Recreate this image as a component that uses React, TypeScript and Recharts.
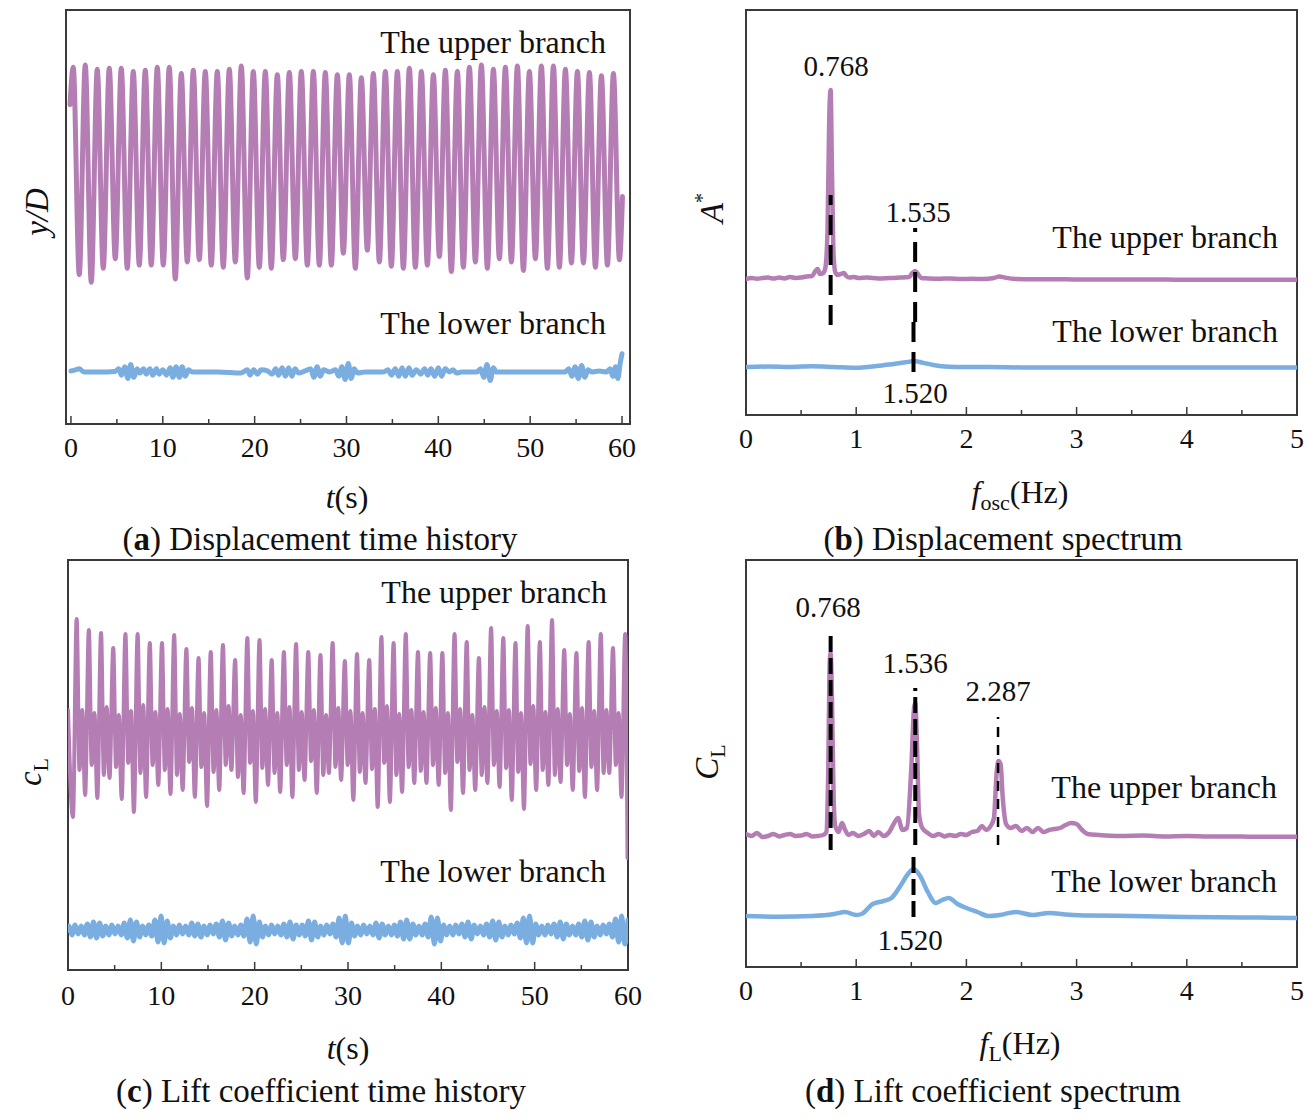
import React from 'react';
import { LineChart, Line, XAxis, YAxis, ReferenceLine, ReferenceArea } from 'recharts';

// ---------- styling constants ----------
const FONT = '"Liberation Serif", "Times New Roman", serif';
const AXIS = '#3a3a3a';
const PURPLE = '#b47eb4';
const BLUE = '#7aade0';

// ---------- ticks ----------
const timeTicks = [0, 5, 10, 15, 20, 25, 30, 35, 40, 45, 50, 55, 60];
const timeMajors = [0, 10, 20, 30, 40, 50, 60];
const freqTicks = [0, 0.5, 1, 1.5, 2, 2.5, 3, 3.5, 4, 4.5, 5];
const freqMajors = [0, 1, 2, 3, 4, 5];

// ---------- (a) displacement time history, upper branch (y/D) ----------
const aStart = [-0.1, 0.63];
const aEnd = [60.05, -0.23];
const aFirstPeakT = 0.25;
const aPeriod = 1.307;
const aPeaks = [0.98, 1.0, 0.96, 0.97, 0.97, 0.94, 0.95, 0.98, 0.98, 0.92,
  0.95, 0.94, 0.94, 0.96, 0.99, 0.94, 0.94, 0.91, 0.93, 0.94,
  0.94, 0.93, 0.91, 0.91, 0.88, 0.92, 0.94, 0.94, 0.97, 0.94,
  0.91, 0.95, 0.94, 0.98, 1.0, 0.96, 0.98, 0.99, 0.94, 0.99,
  0.99, 0.96, 0.94, 0.93, 0.9, 0.92];
const aTroughs = [-0.96, -1.03, -0.9, -0.81, -0.9, -0.87, -0.87, -0.87, -1.0, -0.84,
  -0.82, -0.87, -0.89, -0.84, -0.99, -0.89, -0.9, -0.82, -0.81, -0.87,
  -0.87, -0.87, -0.76, -0.9, -0.73, -0.84, -0.88, -0.9, -0.89, -0.87,
  -0.79, -0.93, -0.89, -0.84, -0.9, -0.81, -0.84, -0.92, -0.81, -0.9,
  -0.89, -0.85, -0.85, -0.89, -0.87, -0.82];
// lower branch (t, y/D)
const aLower = [
  [0, 0.01], [0.5, 0.02], [0.9, 0.03], [1.4, 0.0], [3, 0.0], [4.8, 0.005],
  [5.2, 0.03], [5.5, -0.03], [5.85, 0.05], [6.2, -0.06], [6.5, 0.07], [6.85, -0.05], [7.2, 0.03], [7.5, -0.01],
  [7.9, 0.03], [8.2, -0.02], [8.6, 0.03], [8.9, -0.03], [9.3, 0.03], [9.6, -0.02], [10, 0.02], [10.4, -0.03],
  [10.8, 0.04], [11.1, -0.05], [11.45, 0.05], [11.8, -0.05], [12.1, 0.05], [12.45, -0.04], [12.8, 0.02], [13.2, 0.0],
  [16, 0.0], [18.5, -0.01],
  [19.2, 0.02], [19.5, -0.03], [19.9, 0.02], [20.3, -0.02], [20.7, 0.02], [21.4, 0.01], [21.9, -0.02], [22.3, 0.03],
  [22.6, -0.03], [23, 0.04], [23.35, -0.04], [23.7, 0.04], [24.05, -0.04], [24.4, 0.03], [24.8, -0.01], [25.5, 0.01],
  [26.1, 0.03], [26.45, -0.05], [26.8, 0.05], [27.15, -0.04], [27.5, 0.02], [28.2, 0.0],
  [28.8, 0.02], [29.15, -0.04], [29.5, 0.05], [29.85, -0.07], [30.2, 0.08], [30.5, -0.06], [30.85, 0.03], [31.2, -0.01],
  [32, 0.0], [34, 0.0],
  [34.5, 0.02], [34.9, -0.03], [35.3, 0.03], [35.7, -0.04], [36.05, 0.04], [36.4, -0.04], [36.8, 0.04], [37.15, -0.03],
  [37.6, 0.02], [38.1, -0.02], [38.5, 0.03], [38.85, -0.03], [39.2, 0.03], [39.6, -0.04], [40, 0.04], [40.35, -0.04],
  [40.75, 0.03], [41.2, 0.0], [41.6, 0.02], [42, -0.01], [42.5, 0.0], [44.2, 0.0],
  [44.6, 0.03], [44.95, -0.05], [45.3, 0.07], [45.65, -0.08], [46, 0.04], [46.3, 0.0],
  [50, 0.0], [53.8, 0.0],
  [54.2, 0.03], [54.55, -0.04], [54.9, 0.05], [55.25, -0.06], [55.6, 0.06], [55.95, -0.05], [56.3, 0.02], [56.7, 0.0],
  [57.5, 0.01], [58.3, 0.0], [58.7, 0.03], [59.0, -0.04], [59.3, 0.05], [59.55, -0.06], [59.8, 0.08], [60.0, 0.17],
];

// ---------- (c) lift coefficient time history, upper branch ----------
const cStart = [0, 0.05];
const cEnd = [59.95, -1.43];
const cFirstPeakT = 0.93;
const cPeriod = 1.306;
const cPeaks = [0.96, 0.85, 0.82, 0.67, 0.81, 0.81, 0.72, 0.72, 0.8, 0.66,
  0.57, 0.63, 0.7, 0.55, 0.77, 0.75, 0.55, 0.63, 0.71, 0.63,
  0.6, 0.72, 0.54, 0.61, 0.55, 0.78, 0.72, 0.81, 0.63, 0.62,
  0.62, 0.81, 0.73, 0.57, 0.87, 0.77, 0.72, 0.89, 0.73, 0.95,
  0.65, 0.62, 0.73, 0.81, 0.67, 0.81];
const cDeep = [-1.02, -0.8, -0.83, -0.63, -0.84, -0.97, -0.82, -0.7, -0.79, -0.75,
  -0.82, -0.91, -0.75, -0.55, -0.78, -0.87, -0.7, -0.77, -0.82, -0.65,
  -0.78, -0.58, -0.65, -0.85, -0.68, -0.92, -0.87, -0.77, -0.68, -0.68,
  -0.7, -0.95, -0.78, -0.75, -0.68, -0.72, -0.85, -0.94, -0.75, -0.7,
  -0.67, -0.75, -0.82, -0.75, -0.58, -0.82];
const cMidLow = [-0.55, -0.5, -0.6, -0.52, -0.48, -0.58, -0.5, -0.55, -0.6, -0.47,
  -0.52, -0.57, -0.5, -0.62, -0.48, -0.53, -0.58, -0.5, -0.55, -0.46,
  -0.6, -0.52, -0.5, -0.57, -0.54, -0.48, -0.6, -0.52, -0.56, -0.5,
  -0.58, -0.47, -0.55, -0.6, -0.5, -0.53, -0.57, -0.49, -0.55, -0.6,
  -0.5, -0.56, -0.52, -0.58, -0.5];
const cMid = [0.05, 0.02, 0.08, 0.0, 0.04, 0.1, 0.03, 0.06, 0.01, 0.07,
  0.02, 0.05, 0.09, 0.0, 0.04, 0.06, 0.02, 0.08, 0.03, 0.05,
  0.0, 0.07, 0.04, 0.02, 0.06, 0.09, 0.01, 0.05, 0.03, 0.07,
  0.02, 0.06, 0.0, 0.08, 0.04, 0.05, 0.02, 0.09, 0.03, 0.06,
  0.01, 0.07, 0.04, 0.05, 0.02];
// lower branch
const cLowStart = [0, 0.0];
const cLowEnd = [60, 0.1];
const cLowFirstT = 0.1;
const cLowPeriod = 0.658;
const cLowPeaks = [0.04, 0.05, 0.04, 0.06, 0.08, 0.07, 0.04, 0.05, 0.04, 0.07,
  0.10, 0.08, 0.04, 0.05, 0.10, 0.14, 0.09, 0.04, 0.05, 0.04,
  0.07, 0.06, 0.04, 0.05, 0.06, 0.09, 0.07, 0.04, 0.05, 0.11,
  0.14, 0.08, 0.04, 0.05, 0.04, 0.06, 0.08, 0.05, 0.05, 0.09,
  0.08, 0.04, 0.05, 0.06, 0.12, 0.14, 0.07, 0.04, 0.05, 0.04,
  0.07, 0.06, 0.04, 0.05, 0.08, 0.10, 0.06, 0.04, 0.06, 0.13,
  0.12, 0.05, 0.04, 0.05, 0.06, 0.08, 0.05, 0.04, 0.06, 0.09,
  0.08, 0.04, 0.05, 0.07, 0.12, 0.14, 0.06, 0.04, 0.05, 0.06,
  0.08, 0.06, 0.04, 0.06, 0.09, 0.08, 0.04, 0.05, 0.06, 0.11,
  0.14];
const cLowTroughs = [-0.05, -0.04, -0.05, -0.07, -0.08, -0.06, -0.05, -0.04, -0.05, -0.08,
  -0.11, -0.07, -0.05, -0.06, -0.12, -0.13, -0.08, -0.05, -0.04, -0.05,
  -0.06, -0.07, -0.05, -0.04, -0.07, -0.1, -0.06, -0.05, -0.06, -0.12,
  -0.14, -0.07, -0.05, -0.04, -0.05, -0.07, -0.09, -0.05, -0.06, -0.1,
  -0.07, -0.05, -0.04, -0.07, -0.13, -0.13, -0.06, -0.05, -0.04, -0.05,
  -0.08, -0.05, -0.05, -0.06, -0.09, -0.09, -0.05, -0.05, -0.07, -0.14,
  -0.11, -0.05, -0.05, -0.04, -0.07, -0.09, -0.04, -0.05, -0.07, -0.1,
  -0.07, -0.05, -0.04, -0.08, -0.13, -0.13, -0.05, -0.05, -0.04, -0.07,
  -0.09, -0.05, -0.05, -0.07, -0.1, -0.07, -0.05, -0.04, -0.07, -0.12,
  -0.14];

// ---------- (b) displacement spectrum ----------
const bUpperF = [0, 0.05, 0.1, 0.15, 0.2, 0.25, 0.3, 0.35, 0.4, 0.45, 0.5, 0.55, 0.6, 0.63, 0.65, 0.67, 0.7,
  0.72, 0.74, 0.755, 0.768, 0.78, 0.795, 0.81, 0.83, 0.86, 0.89, 0.91, 0.94, 0.98, 1.02, 1.1, 1.2, 1.3,
  1.4, 1.48, 1.51, 1.535, 1.56, 1.59, 1.65, 1.75, 1.85, 1.95, 2.05, 2.15, 2.25, 2.3, 2.35, 2.45, 2.6,
  2.8, 3.0, 3.2, 3.4, 3.6, 3.8, 4.0, 4.2, 4.4, 4.6, 4.8, 5.0];
const bUpperA = [0.005, 0.01, 0.006, 0.01, 0.012, 0.007, 0.012, 0.008, 0.015, 0.01, 0.012, 0.018, 0.02, 0.045, 0.055, 0.03, 0.035,
  0.06, 0.25, 0.8, 0.95, 0.55, 0.12, 0.04, 0.025, 0.03, 0.035, 0.02, 0.012, 0.015, 0.01, 0.012, 0.008, 0.01,
  0.012, 0.015, 0.035, 0.045, 0.03, 0.01, 0.008, 0.006, 0.008, 0.005, 0.006, 0.005, 0.01, 0.018, 0.012, 0.005, 0.004,
  0.004, 0.003, 0.003, 0.002, 0.002, 0.002, 0.001, 0.001, 0.001, 0.001, 0.001, 0.001];
const bLowerF = [0, 0.2, 0.4, 0.6, 0.8, 1.0, 1.1, 1.2, 1.3, 1.4, 1.5, 1.52, 1.6, 1.7, 1.8, 2.0, 2.2, 2.5, 3.0, 3.5, 4.0, 4.5, 5.0];
const bLowerA = [0.01, 0.012, 0.01, 0.014, 0.01, 0.006, 0.01, 0.016, 0.022, 0.03, 0.038, 0.04, 0.032, 0.02, 0.013, 0.01, 0.01,
  0.008, 0.008, 0.008, 0.008, 0.007, 0.007];

// ---------- (d) lift coefficient spectrum ----------
const dUpperF = [0, 0.05, 0.1, 0.15, 0.2, 0.25, 0.3, 0.35, 0.4, 0.45, 0.5, 0.55, 0.6, 0.65, 0.7, 0.73, 0.745, 0.76, 0.768,
  0.78, 0.795, 0.81, 0.84, 0.87, 0.9, 0.93, 0.97, 1.02, 1.07, 1.12, 1.16, 1.2, 1.25, 1.3, 1.35, 1.38, 1.42, 1.46,
  1.5, 1.525, 1.536, 1.55, 1.57, 1.6, 1.65, 1.7, 1.75, 1.8, 1.85, 1.9, 1.95, 2.0, 2.05, 2.1, 2.14, 2.18, 2.22,
  2.25, 2.275, 2.29, 2.31, 2.33, 2.36, 2.4, 2.45, 2.5, 2.55, 2.6, 2.65, 2.7, 2.75, 2.8, 2.85, 2.9, 2.95, 3.0,
  3.05, 3.1, 3.2, 3.4, 3.6, 3.8, 4.0, 4.2, 4.4, 4.6, 4.8, 5.0];
const dUpperA = [0.02, 0.01, 0.025, 0.005, 0.01, 0.02, 0.008, 0.015, 0.02, 0.01, 0.012, 0.02, 0.008, 0.01, 0.015, 0.03, 0.3, 0.88, 0.925,
  0.7, 0.2, 0.06, 0.03, 0.075, 0.04, 0.015, 0.025, 0.01, 0.02, 0.035, 0.01, 0.03, 0.01, 0.03, 0.08, 0.1, 0.04, 0.05,
  0.35, 0.65, 0.675, 0.5, 0.12, 0.05, 0.025, 0.01, 0.02, 0.008, 0.015, 0.01, 0.02, 0.015, 0.03, 0.035, 0.06, 0.04, 0.06,
  0.1, 0.33, 0.385, 0.37, 0.2, 0.07, 0.05, 0.06, 0.035, 0.05, 0.03, 0.05, 0.03, 0.04, 0.045, 0.05, 0.065, 0.075, 0.07,
  0.04, 0.02, 0.015, 0.01, 0.012, 0.008, 0.01, 0.008, 0.008, 0.006, 0.006, 0.006];
const dLowerF = [0, 0.3, 0.6, 0.8, 0.9, 1.0, 1.05, 1.15, 1.25, 1.32, 1.4, 1.47, 1.52, 1.58, 1.65, 1.72, 1.78, 1.84, 1.92,
  2.0, 2.1, 2.2, 2.3, 2.45, 2.6, 2.75, 2.9, 3.1, 3.5, 4.0, 4.5, 5.0];
const dLowerA = [0.01, 0.006, 0.01, 0.02, 0.03, 0.015, 0.02, 0.07, 0.085, 0.1, 0.16, 0.22, 0.245, 0.21, 0.13, 0.075, 0.09, 0.1, 0.07,
  0.05, 0.03, 0.01, 0.015, 0.03, 0.015, 0.025, 0.018, 0.012, 0.01, 0.005, 0.003, 0.0];

// ---------- vertical placement of stacked branches (axis units) ----------
const A_UPPER_OFFSET = 1.869;
const C_UPPER_OFFSET = 2.15;
const B_UPPER_OFFSET = 0.445;
const D_UPPER_OFFSET = 0.4;

// ---------- peak marker segments [freq, yFrom, yTo] ----------
const bMarks = [[0.768, 0.22, 0.87], [1.535, 0.235, 0.705], [1.52, -0.015, 0.285]];
const dMarks = [[0.768, 0.34, 1.43], [1.536, 0.365, 1.15], [1.52, 0.005, 0.315]];
const dMarkThin = [2.287, 0.365, 1.005];

// ---------- build series tables ----------
type P = { x: number; v: number };

function buildAlternating(start: number[], firstT: number, period: number, peaks: number[], troughs: number[], end: number[], off: number): P[] {
  const out: P[] = [{ x: start[0], v: start[1] + off }];
  peaks.forEach((p, i) => {
    const t = firstT + i * period;
    out.push({ x: t, v: p + off });
    out.push({ x: t + period / 2, v: troughs[i] + off });
  });
  out.push({ x: end[0], v: end[1] + off });
  return out;
}

const upperAData = buildAlternating(aStart, aFirstPeakT, aPeriod, aPeaks, aTroughs, aEnd, A_UPPER_OFFSET);
const lowerAData: P[] = aLower.map(([x, v]) => ({ x, v }));

const upperCData: P[] = (() => {
  const out: P[] = [{ x: cStart[0], v: cStart[1] + C_UPPER_OFFSET }];
  cPeaks.forEach((p, i) => {
    const t = cFirstPeakT + i * cPeriod;
    out.push({ x: t - 0.4, v: cDeep[i] + C_UPPER_OFFSET });
    out.push({ x: t, v: p + C_UPPER_OFFSET });
    if (i < cMid.length) {
      out.push({ x: t + 0.3, v: cMidLow[i] + C_UPPER_OFFSET });
      out.push({ x: t + 0.6, v: cMid[i] + C_UPPER_OFFSET });
    }
  });
  out.push({ x: cEnd[0], v: cEnd[1] + C_UPPER_OFFSET });
  return out;
})();
const lowerCData = buildAlternating(cLowStart, cLowFirstT, cLowPeriod, cLowPeaks, cLowTroughs, cLowEnd, 0);

const zipSpec = (f: number[], a: number[], off: number): P[] => f.map((x, i) => ({ x, v: a[i] + off }));
const upperBData = zipSpec(bUpperF, bUpperA, B_UPPER_OFFSET);
const lowerBData = zipSpec(bLowerF, bLowerA, 0);
const upperDData = zipSpec(dUpperF, dUpperA, D_UPPER_OFFSET);
const lowerDData = zipSpec(dLowerF, dLowerA, 0);

// ---------- components ----------
function makeTick(majors: number[], labelDy: number) {
  return (props: any) => {
    const { x, y, payload } = props;
    const isMajor = majors.some((m) => Math.abs(m - payload.value) < 1e-6);
    return (
      <g>
        <line x1={x} x2={x} y1={y} y2={y - (isMajor ? 8 : 5)} stroke={AXIS} strokeWidth={1.5} />
        {isMajor && (
          <text x={x} y={y + labelDy} textAnchor="middle" fontFamily={FONT} fontSize={28} fill="#111">
            {payload.value}
          </text>
        )}
      </g>
    );
  };
}

type PanelProps = {
  L: number; R: number; T: number; B: number;
  xDomain: number[]; yDomain: number[];
  ticks: number[]; majors: number[]; labelDy: number;
  children: React.ReactNode;
};

function Panel({ L, R, T, B, xDomain, yDomain, ticks, majors, labelDy, children }: PanelProps) {
  const padX = 30;
  const padY = 5;
  return (
    <div style={{ position: 'absolute', left: L - padX, top: T - padY }}>
      <LineChart width={R - L + 2 * padX} height={B - T + padY + 60} margin={{ top: padY, right: padX, left: padX, bottom: 0 }}>
        <XAxis type="number" dataKey="x" domain={xDomain} ticks={ticks} interval={0} tickSize={0} tickMargin={0}
          tick={makeTick(majors, labelDy)} axisLine={{ stroke: AXIS, strokeWidth: 2 }} tickLine={false} allowDataOverflow height={60} />
        <YAxis hide type="number" domain={yDomain} allowDataOverflow />
        <ReferenceArea x1={xDomain[0]} x2={xDomain[1]} y1={yDomain[0]} y2={yDomain[1]} fill="none" fillOpacity={0}
          stroke={AXIS} strokeWidth={2} ifOverflow="visible" />
        {children}
      </LineChart>
    </div>
  );
}

const seriesLine = (key: string, data: P[], color: string, w = 5) => (
  <Line key={key} data={data} dataKey="v" type="monotone" stroke={color} strokeWidth={w} dot={false}
    isAnimationActive={false} strokeLinejoin="round" strokeLinecap="round" />
);

const markLine = (key: string, m: number[], w: number, dash: string) => (
  <ReferenceLine key={key} segment={[{ x: m[0], y: m[1] }, { x: m[0], y: m[2] }]} stroke="#000"
    strokeWidth={w} strokeDasharray={dash} ifOverflow="visible" />
);

function Txt(props: any) {
  return <text fontFamily={FONT} fill="#111" {...props} />;
}

export default function App() {
  return (
    <div style={{ position: 'absolute', left: 0, top: 0, width: 1313, height: 1118, background: '#fff', overflow: 'hidden' }}>
      {/* (a) */}
      <Panel L={66} R={630} T={10} B={424} xDomain={[-0.54, 60.87]} yDomain={[-0.486, 3.383]}
        ticks={timeTicks} majors={timeMajors} labelDy={33}>
        {seriesLine('ua', upperAData, PURPLE)}
        {seriesLine('la', lowerAData, BLUE)}
      </Panel>
      {/* (b) */}
      <Panel L={746} R={1297} T={10} B={415} xDomain={[0, 5]} yDomain={[-0.23, 1.795]}
        ticks={freqTicks} majors={freqMajors} labelDy={33}>
        {seriesLine('ub', upperBData, PURPLE, 4.5)}
        {seriesLine('lb', lowerBData, BLUE, 4.5)}
        {bMarks.map((m, i) => markLine('bm' + i, m, 4, '20 10'))}
      </Panel>
      {/* (c) */}
      <Panel L={68} R={628} T={560} B={970} xDomain={[0, 60]} yDomain={[-0.4, 3.7]}
        ticks={timeTicks} majors={timeMajors} labelDy={35}>
        {seriesLine('uc', upperCData, PURPLE, 4)}
        {seriesLine('lc', lowerCData, BLUE)}
      </Panel>
      {/* (d) */}
      <Panel L={746} R={1297} T={560} B={967} xDomain={[0, 5]} yDomain={[-0.245, 1.79]}
        ticks={freqTicks} majors={freqMajors} labelDy={33}>
        {seriesLine('ud', upperDData, PURPLE, 4.5)}
        {seriesLine('ld', lowerDData, BLUE, 4.5)}
        {dMarks.map((m, i) => markLine('dm' + i, m, 4, '16 6'))}
        {markLine('dthin', dMarkThin, 2.5, '10 8')}
      </Panel>

      {/* text overlay */}
      <svg width={1313} height={1118} style={{ position: 'absolute', left: 0, top: 0, pointerEvents: 'none' }}>
        {/* panel a */}
        <Txt x={606} y={53} fontSize={32} textAnchor="end">The upper branch</Txt>
        <Txt x={606} y={334} fontSize={32} textAnchor="end">The lower branch</Txt>
        <Txt x={48} y={212} fontSize={33} textAnchor="middle" transform="rotate(-90 48 212)" fontStyle="italic">y/D</Txt>
        <Txt x={347} y={508} fontSize={32} textAnchor="middle"><tspan fontStyle="italic">t</tspan>(s)</Txt>
        <Txt x={320} y={550} fontSize={33} textAnchor="middle">(<tspan fontWeight="bold">a</tspan>) Displacement time history</Txt>

        {/* panel b */}
        <Txt x={836} y={76} fontSize={29} textAnchor="middle">0.768</Txt>
        <Txt x={918} y={222} fontSize={29} textAnchor="middle">1.535</Txt>
        <Txt x={915} y={403} fontSize={29} textAnchor="middle">1.520</Txt>
        <Txt x={1278} y={248} fontSize={32} textAnchor="end">The upper branch</Txt>
        <Txt x={1278} y={342} fontSize={32} textAnchor="end">The lower branch</Txt>
        <Txt x={723} y={208} fontSize={33} textAnchor="middle" transform="rotate(-90 723 208)">
          <tspan fontStyle="italic">A</tspan><tspan fontSize={20} dy={-14}>*</tspan>
        </Txt>
        <Txt x={1020} y={503} fontSize={32} textAnchor="middle">
          <tspan fontStyle="italic">f</tspan><tspan fontSize={22} dy={7}>osc</tspan><tspan dy={-7}>(Hz)</tspan>
        </Txt>
        <Txt x={1003} y={550} fontSize={33} textAnchor="middle">(<tspan fontWeight="bold">b</tspan>) Displacement spectrum</Txt>

        {/* panel c */}
        <Txt x={607} y={603} fontSize={32} textAnchor="end">The upper branch</Txt>
        <Txt x={606} y={882} fontSize={32} textAnchor="end">The lower branch</Txt>
        <Txt x={41} y={772} fontSize={33} textAnchor="middle" transform="rotate(-90 41 772)">
          <tspan fontStyle="italic">c</tspan><tspan fontSize={22} dy={7}>L</tspan>
        </Txt>
        <Txt x={348} y={1059} fontSize={32} textAnchor="middle"><tspan fontStyle="italic">t</tspan>(s)</Txt>
        <Txt x={321} y={1102} fontSize={33} textAnchor="middle">(<tspan fontWeight="bold">c</tspan>) Lift coefficient time history</Txt>

        {/* panel d */}
        <Txt x={828} y={617} fontSize={29} textAnchor="middle">0.768</Txt>
        <Txt x={915} y={673} fontSize={29} textAnchor="middle">1.536</Txt>
        <Txt x={998} y={701} fontSize={29} textAnchor="middle">2.287</Txt>
        <Txt x={910} y={950} fontSize={29} textAnchor="middle">1.520</Txt>
        <Txt x={1277} y={798} fontSize={32} textAnchor="end">The upper branch</Txt>
        <Txt x={1277} y={892} fontSize={32} textAnchor="end">The lower branch</Txt>
        <Txt x={718} y={762} fontSize={33} textAnchor="middle" transform="rotate(-90 718 762)">
          <tspan fontStyle="italic">C</tspan><tspan fontSize={22} dy={7}>L</tspan>
        </Txt>
        <Txt x={1020} y={1054} fontSize={32} textAnchor="middle">
          <tspan fontStyle="italic">f</tspan><tspan fontSize={22} dy={7}>L</tspan><tspan dy={-7}>(Hz)</tspan>
        </Txt>
        <Txt x={993} y={1102} fontSize={33} textAnchor="middle">(<tspan fontWeight="bold">d</tspan>) Lift coefficient spectrum</Txt>
      </svg>
    </div>
  );
}
